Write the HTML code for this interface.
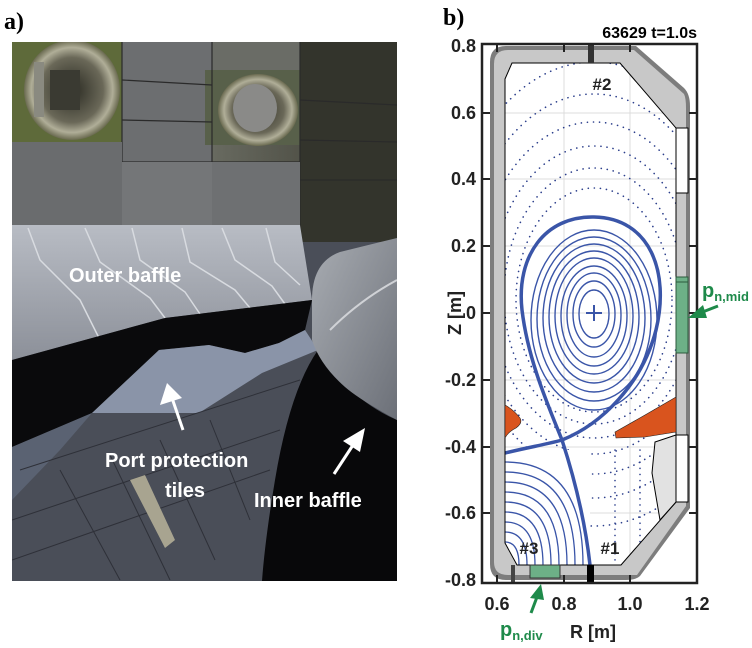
<!DOCTYPE html>
<html><head><meta charset="utf-8"><style>
html,body{margin:0;padding:0;background:#fff;}
svg{display:block;}
</style></head><body>
<svg width="752" height="648" viewBox="0 0 752 648" xmlns="http://www.w3.org/2000/svg" font-family="Liberation Sans, Arial, sans-serif">
<defs>
<clipPath id="ph"><rect x="12" y="42" width="385" height="539"/></clipPath>
<clipPath id="inner"><path d="M505,79 L512,63 L620,63 L676,128 L676,502 L621,565 L517,565 L505,543 Z"/></clipPath>
<linearGradient id="topg" x1="0" y1="0" x2="1" y2="0"><stop offset="0" stop-color="#5d6050"/><stop offset="0.5" stop-color="#6a6c62"/><stop offset="1" stop-color="#3a3a30"/></linearGradient>
<linearGradient id="baf" x1="0" y1="0" x2="0" y2="1"><stop offset="0" stop-color="#b8bcc4"/><stop offset="1" stop-color="#8c9099"/></linearGradient>
<linearGradient id="inb" x1="0" y1="0" x2="1" y2="1"><stop offset="0" stop-color="#a8acb2"/><stop offset="1" stop-color="#6c7078"/></linearGradient>
<radialGradient id="port" cx="0.5" cy="0.5" r="0.5"><stop offset="0" stop-color="#2a2a22"/><stop offset="0.65" stop-color="#6a6858"/><stop offset="0.85" stop-color="#b0ae98"/><stop offset="1" stop-color="#6a6a50"/></radialGradient>
</defs>

<!-- ============ PHOTO ============ -->
<text x="4" y="29" font-family="Liberation Serif, serif" font-weight="bold" font-size="24">a)</text>
<g clip-path="url(#ph)">
<rect x="12" y="42" width="385" height="539" fill="#4a4e58"/>
<rect x="12" y="42" width="385" height="190" fill="url(#topg)"/>
<rect x="12" y="42" width="110" height="100" fill="#5e6a3a"/>
<rect x="205" y="42" width="95" height="30" fill="#6a6c66"/>
<rect x="122" y="42" width="90" height="190" fill="#6c6e70"/>
<rect x="205" y="70" width="95" height="75" fill="#58604a"/>
<rect x="300" y="42" width="97" height="200" fill="#33342c"/>
<g stroke="#2a2a2a" stroke-width="1.2">
<line x1="122" y1="80" x2="212" y2="85"/><line x1="122" y1="120" x2="212" y2="122"/><line x1="122" y1="162" x2="300" y2="162"/>
<line x1="300" y1="100" x2="397" y2="105"/><line x1="300" y1="140" x2="397" y2="142"/><line x1="300" y1="180" x2="397" y2="180"/>
<line x1="212" y1="42" x2="212" y2="232"/><line x1="300" y1="42" x2="300" y2="232"/><line x1="122" y1="42" x2="122" y2="232"/>
</g>
<rect x="12" y="142" width="110" height="85" fill="#6a6c6e"/>
<rect x="122" y="162" width="90" height="65" fill="#747678"/>
<rect x="212" y="162" width="88" height="65" fill="#6e7072"/>
<ellipse cx="72" cy="90" rx="48" ry="50" fill="url(#port)"/>
<rect x="34" y="62" width="10" height="55" fill="#8a8a80"/>
<rect x="50" y="70" width="30" height="40" fill="#3a3a32"/>
<ellipse cx="258" cy="110" rx="40" ry="36" fill="url(#port)"/>
<ellipse cx="255" cy="108" rx="22" ry="24" fill="#8a8a88"/>
<path d="M12,225 L300,225 L312,300 L165,318 L12,360 Z" fill="url(#baf)"/>
<g stroke="#d8dbe0" stroke-width="1.5" fill="none">
<path d="M28,228 L40,260 L80,300 L100,340"/>
<path d="M85,228 L100,262 L150,298 L165,318"/>
<path d="M132,228 L140,260 L185,292 L200,314"/>
<path d="M182,228 L190,262 L235,290 L250,308"/>
<path d="M222,228 L235,260 L272,286 L285,304"/>
<path d="M266,228 L275,262 L300,285"/>
</g>
<path d="M12,360 L165,318 L312,300 L305,330 L279,343 L245,353 L209,345 L159,350 L92,413 L12,447 Z" fill="#0a0a0c"/>
<path d="M92,413 L159,350 L209,345 L245,353 L279,343 L305,330 L318,350 L262,373 L199,413 Z" fill="#8a94a8"/>
<path d="M12,447 L92,413 L60,450 L12,500 Z" fill="#5a6272"/>
<g stroke="#2e3038" stroke-width="1" fill="none">
<line x1="20" y1="470" x2="300" y2="380"/><line x1="12" y1="520" x2="280" y2="430"/><line x1="12" y1="560" x2="270" y2="470"/>
<line x1="60" y1="470" x2="120" y2="580"/><line x1="110" y1="455" x2="170" y2="580"/><line x1="160" y1="440" x2="215" y2="560"/><line x1="210" y1="420" x2="250" y2="520"/>
</g>
<path d="M130,480 L145,475 L175,540 L165,548 Z" fill="#a8a490"/>
<path d="M318,350 Q290,390 275,480 Q265,540 262,581 L397,581 L397,420 Q350,400 318,350 Z" fill="#08080a"/>
<path d="M312,300 Q312,262 340,252 L397,238 L397,420 Q360,400 345,387 Q320,365 312,340 Z" fill="url(#inb)"/>
<path d="M330,330 Q360,300 397,280" stroke="#d0d2d6" stroke-width="2" fill="none"/>
</g>
<g fill="#fff" font-weight="bold">
<text x="69" y="282" font-size="20">Outer baffle</text>
<text x="105" y="467" font-size="20">Port protection</text>
<text x="165" y="497" font-size="20">tiles</text>
<text x="254" y="507" font-size="20">Inner baffle</text>
</g>
<g stroke="#fff" stroke-width="3" fill="#fff">
<line x1="183" y1="430" x2="172" y2="398"/>
<polygon points="167,383 160,405 182,398" stroke="none"/>
<line x1="334" y1="474" x2="355" y2="442"/>
<polygon points="365,428 343,441 360,452" stroke="none"/>
</g>

<!-- ============ PLOT ============ -->
<text x="443" y="25" font-family="Liberation Serif, serif" font-weight="bold" font-size="24">b)</text>
<text x="697" y="38" text-anchor="end" font-weight="bold" font-size="16">63629 t=1.0s</text>

<path d="M490,62 Q490,46 506,46 L636,46 L684,88 Q690,94 690,106 L690,508 L640,576 Q636,580 626,580 L506,580 Q490,580 490,564 Z" fill="#7d7d7d"/>
<path d="M494,64 Q494,50 508,50 L634,50 L684,94 Q686,98 686,108 L686,506 L637,575 L508,575 Q494,575 494,562 Z" fill="#c8c8c8"/>
<path d="M505,79 L512,63 L620,63 L676,128 L676,502 L621,565 L517,565 L505,543 Z" fill="#fff"/>

<g clip-path="url(#inner)">
<g stroke="#dcdcdc" stroke-width="1">
<line x1="564" y1="40" x2="564" y2="590"/><line x1="630" y1="40" x2="630" y2="590"/>
<line x1="480" y1="113" x2="700" y2="113"/><line x1="480" y1="179" x2="700" y2="179"/><line x1="480" y1="246" x2="700" y2="246"/>
<line x1="480" y1="313" x2="700" y2="313"/><line x1="480" y1="380" x2="700" y2="380"/><line x1="480" y1="447" x2="700" y2="447"/><line x1="480" y1="513" x2="700" y2="513"/>
</g>
<g fill="none" stroke="#2c3f8c" stroke-width="1.6" stroke-dasharray="0.1 6" stroke-linecap="round">
<ellipse cx="594" cy="300" rx="78" ry="112"/>
<ellipse cx="594" cy="296" rx="90" ry="128"/>
<ellipse cx="594" cy="292" rx="103" ry="146"/>
<ellipse cx="594" cy="288" rx="117" ry="166"/>
<ellipse cx="594" cy="284" rx="132" ry="190"/>
<ellipse cx="594" cy="280" rx="150" ry="218"/>
<ellipse cx="594" cy="276" rx="170" ry="250"/>
<ellipse cx="600" cy="280" rx="200" ry="300"/>
<line x1="640" y1="450" x2="640" y2="565"/><line x1="660" y1="450" x2="665" y2="565"/><line x1="615" y1="450" x2="615" y2="565"/>
</g>
<rect x="505" y="450" width="85" height="115" fill="#fff"/>
<g fill="none" stroke="#3a55a8" stroke-width="1.3">
<path d="M505,462 Q583,462 583,565"/>
<path d="M505,472 Q575,472 575,565"/>
<path d="M505,482 Q567,482 567,565"/>
<path d="M505,492 Q559,492 559,565"/>
<path d="M505,502 Q551,502 551,565"/>
<path d="M505,512 Q543,512 543,565"/>
<path d="M505,522 Q535,522 535,565"/>
<path d="M505,532 Q527,532 527,565"/>
<path d="M505,542 Q519,542 519,565"/>
</g>
<g fill="none" stroke="#3a55a8" stroke-width="1.4">
<ellipse cx="594" cy="320" rx="63" ry="90"/>
<ellipse cx="594" cy="319" rx="57" ry="82"/>
<ellipse cx="594" cy="318" rx="51" ry="74"/>
<ellipse cx="594" cy="317" rx="45" ry="66"/>
<ellipse cx="594" cy="316" rx="39" ry="58"/>
<ellipse cx="594" cy="316" rx="33" ry="50"/>
<ellipse cx="594" cy="315" rx="27" ry="42"/>
<ellipse cx="594" cy="314" rx="21" ry="33"/>
<ellipse cx="594" cy="314" rx="15" ry="24"/>
</g>
<path d="M505,453 C530,447 548,444 562,440 C602,424 642,384 656,330 C670,272 650,218 594,217 C545,216 516,256 522,310 C528,360 548,405 562,440 C575,480 585,520 590,565" fill="none" stroke="#3a55a8" stroke-width="3.5"/>
<g stroke="#3a55a8" stroke-width="2"><line x1="586" y1="313" x2="602" y2="313"/><line x1="594" y1="305" x2="594" y2="321"/></g>
</g>
<path d="M505,79 L512,63 L620,63 L676,128 L676,502 L621,565 L517,565 L505,543 Z" fill="none" stroke="#000" stroke-width="1"/>

<rect x="676" y="128" width="12" height="65" fill="#fff" stroke="#000" stroke-width="1"/>
<rect x="676" y="277" width="12" height="76" fill="#6db087" stroke="#2c5a3c" stroke-width="1"/>
<line x1="676" y1="282" x2="688" y2="282" stroke="#2c5a3c"/>
<rect x="676" y="435" width="12" height="67" fill="#fff" stroke="#000" stroke-width="1"/>
<polygon points="676,435 655,442 652,473 660,520 676,502" fill="#e2e2e2" stroke="#000" stroke-width="1"/>
<path d="M505,405 Q514,410 520,418 Q523,423 516,428 Q508,432 505,438 Z" fill="#d9541e" stroke="#222" stroke-width="0.6"/>
<path d="M676,397 L645,415 L615,432 L616,438 L645,437 L676,432 Z" fill="#d9541e" stroke="#222" stroke-width="0.6"/>
<rect x="588" y="45" width="6" height="18" fill="#333"/>
<rect x="587" y="565" width="7" height="18" fill="#000"/>
<rect x="511" y="565" width="4" height="18" fill="#444"/>
<rect x="530" y="565" width="30" height="13" fill="#6db087" stroke="#333" stroke-width="1"/>

<rect x="482" y="44" width="215" height="539" fill="none" stroke="#222" stroke-width="2.5"/>
<g stroke="#222" stroke-width="2">
<line x1="482" y1="113" x2="490" y2="113"/><line x1="482" y1="179" x2="490" y2="179"/><line x1="482" y1="246" x2="490" y2="246"/><line x1="482" y1="313" x2="490" y2="313"/><line x1="482" y1="380" x2="490" y2="380"/><line x1="482" y1="447" x2="490" y2="447"/><line x1="482" y1="513" x2="490" y2="513"/>
<line x1="689" y1="113" x2="697" y2="113"/><line x1="689" y1="179" x2="697" y2="179"/><line x1="689" y1="246" x2="697" y2="246"/><line x1="689" y1="313" x2="697" y2="313"/><line x1="689" y1="380" x2="697" y2="380"/><line x1="689" y1="447" x2="697" y2="447"/><line x1="689" y1="513" x2="697" y2="513"/>
<line x1="497" y1="44" x2="497" y2="52"/><line x1="564" y1="44" x2="564" y2="52"/><line x1="630" y1="44" x2="630" y2="52"/>
<line x1="497" y1="575" x2="497" y2="583"/><line x1="564" y1="575" x2="564" y2="583"/><line x1="630" y1="575" x2="630" y2="583"/>
</g>
<g font-weight="bold" font-size="18" fill="#222" text-anchor="end">
<text x="476" y="52">0.8</text><text x="476" y="119">0.6</text><text x="476" y="185">0.4</text><text x="476" y="252">0.2</text><text x="476" y="319">0</text><text x="476" y="386">-0.2</text><text x="476" y="453">-0.4</text><text x="476" y="519">-0.6</text><text x="476" y="586">-0.8</text>
</g>
<g font-weight="bold" font-size="18" fill="#222" text-anchor="middle">
<text x="497" y="610">0.6</text><text x="564" y="610">0.8</text><text x="630" y="610">1.0</text><text x="697" y="610">1.2</text>
<text x="593" y="638">R [m]</text>
<text transform="translate(461,313) rotate(-90)">Z [m]</text>
<text x="602" y="90" font-size="17">#2</text>
<text x="529" y="554" font-size="17">#3</text>
<text x="610" y="554" font-size="17">#1</text>
</g>
<g fill="#1e8a4a" font-weight="bold">
<text x="702" y="297" font-size="20">p<tspan font-size="13" dy="4">n,mid</tspan></text>
<text x="500" y="636" font-size="20">p<tspan font-size="13" dy="4">n,div</tspan></text>
</g>
<g stroke="#1e8a4a" stroke-width="3" fill="#1e8a4a">
<line x1="718" y1="306" x2="700" y2="313"/>
<polygon points="688,318 703,305 707,318" stroke="none"/>
<line x1="531" y1="613" x2="537" y2="597"/>
<polygon points="541,584 530,598 544,600" stroke="none"/>
</g>
</svg>
</body></html>
